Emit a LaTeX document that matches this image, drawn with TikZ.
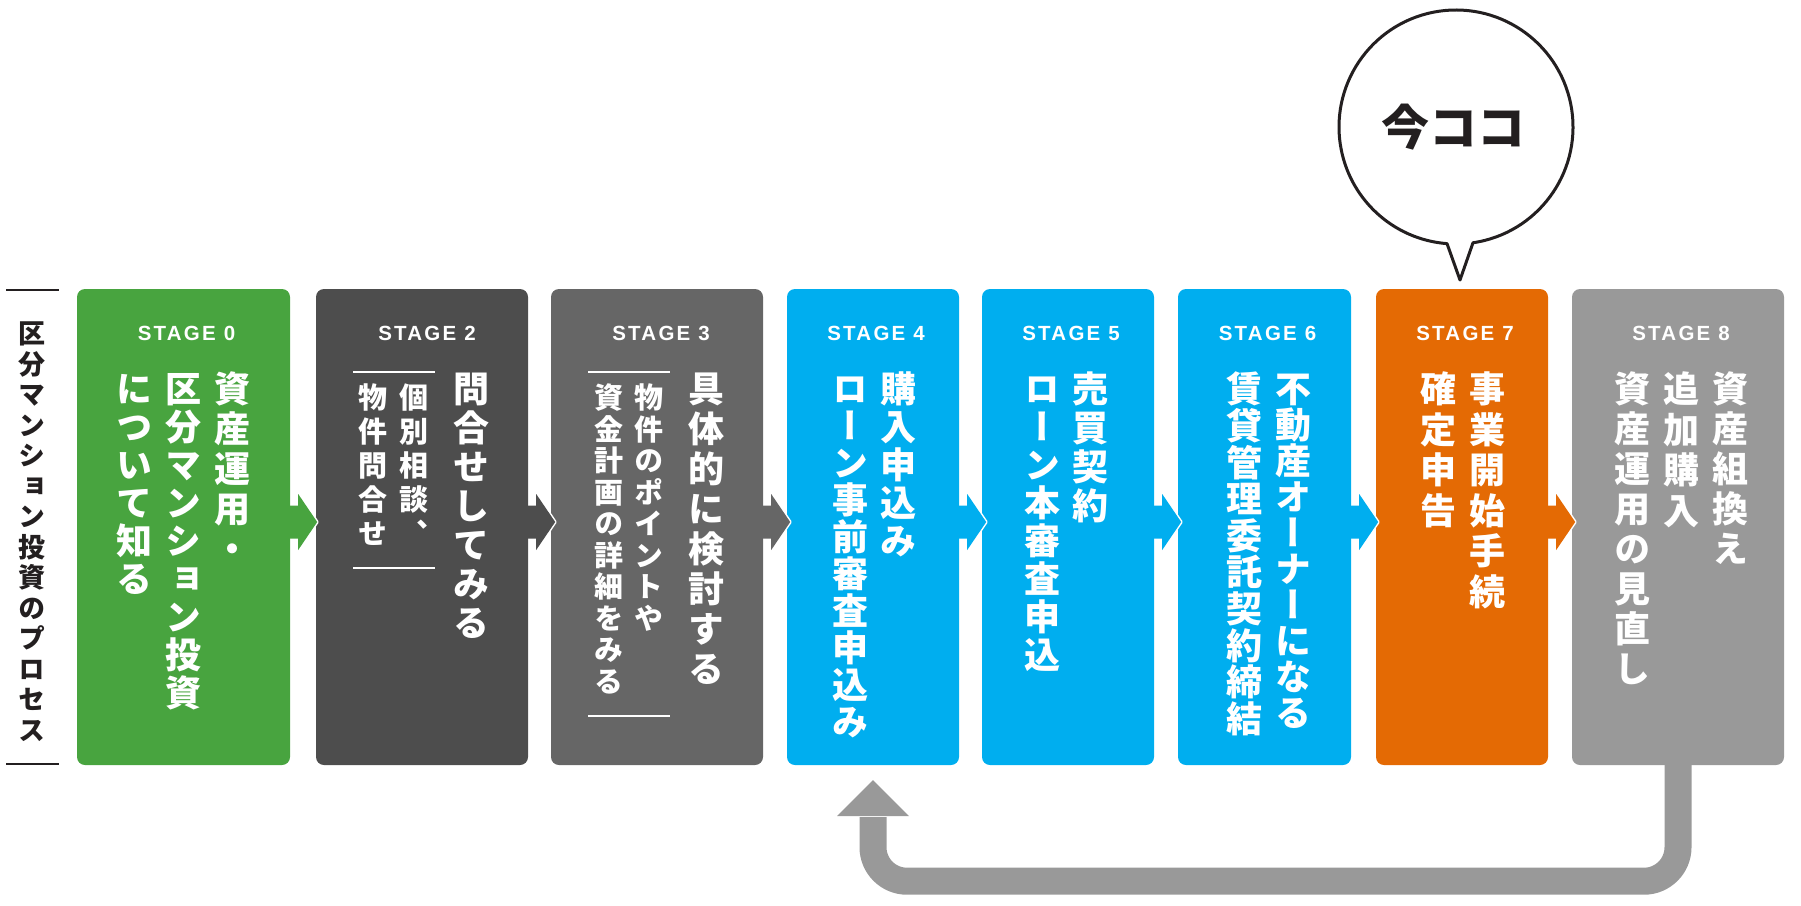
\documentclass[tikz,border=0pt]{standalone}
\usepackage{fontspec}
\newfontfamily\jpv[RawFeature=+vert]{Noto Sans CJK JP}
\newfontfamily\jph{Noto Sans CJK JP}
\newfontfamily\stg[LetterSpace=11]{Liberation Sans}
\usetikzlibrary{calc}
\definecolor{cgreen}{HTML}{48A43F}
\definecolor{cdark}{HTML}{4D4D4D}
\definecolor{cgrey}{HTML}{666666}
\definecolor{cblue}{HTML}{00AEEF}
\definecolor{corange}{HTML}{E46A04}
\definecolor{clight}{HTML}{999999}
\definecolor{cink}{HTML}{231F20}
\makeatletter
\newcommand\vcol[2]{%
  \vbox{\offinterlineskip\let\vc@sep\relax
    \@tfor\vc@ch:=#2\do{%
      \vc@sep
      \hbox to 1em{\vrule height .88em depth .12em width 0pt\hss\vc@ch\hss}%
      \def\vc@sep{\kern\dimexpr#1pt-1em\relax}}}}
\makeatother
\newcommand\starrow[2]{%
  \draw[white, line width=3pt, line join=round]
    ($(#1.east)+(8,-33)$) -- ($(#1.east)+(27,-5)$) -- ($(#1.east)+(8,23)$);
  \fill[#2] ($(#1.east)+(-1,-21.5)$) -- ($(#1.east)+(8,-21.5)$) -- ($(#1.east)+(8,-33)$)
    -- ($(#1.east)+(27,-5)$) -- ($(#1.east)+(8,23)$) -- ($(#1.east)+(8,11.5)$)
    -- ($(#1.east)+(-1,11.5)$) -- cycle;}
\begin{document}
\begin{tikzpicture}[x=1pt,y=-1pt,
  box/.style={rounded corners=8pt, minimum height=476pt, inner sep=0pt, draw=none},
  stagelbl/.style={text=white, inner sep=0pt, font=\stg\bfseries\fontsize{20.5}{20.5}\selectfont},
  vmain/.style={text=white, anchor=north, inner sep=0pt, font=\jpv\bfseries\fontsize{36}{36}\selectfont},
  vsub/.style={text=white, anchor=north, inner sep=0pt, font=\jpv\bfseries\fontsize{29}{29}\selectfont},
  subline/.style={white, line width=1.5pt},
  rule/.style={cink, line width=1.5pt}]
\useasboundingbox (0,0) rectangle (1801,905);

% title on the left
\node[anchor=north, inner sep=0pt, text=cink, font=\jpv\bfseries\fontsize{27}{27}\selectfont] (title) at (32,320) {\vcol{30.5}{区分マンション投資のプロセス}};
\draw[rule] (6,290) -- (59,290);
\draw[rule] (6,764) -- (59,764);

% stage boxes
\node[box, fill=cgreen, minimum width=213pt] (s0) at (183.5,527) {};
\node[box, fill=cdark, minimum width=212pt] (s2) at (422,527) {};
\node[box, fill=cgrey, minimum width=212pt] (s3) at (657,527) {};
\node[box, fill=cblue, minimum width=172pt] (s4) at (873,527) {};
\node[box, fill=cblue, minimum width=172pt] (s5) at (1068,527) {};
\node[box, fill=cblue, minimum width=173pt] (s6) at (1264.5,527) {};
\node[box, fill=corange, minimum width=172pt] (s7) at (1462,527) {};
\node[box, fill=clight, minimum width=212pt] (s8) at (1678,527) {};

% arrows between boxes
\starrow{s0}{cgreen}
\starrow{s2}{cdark}
\starrow{s3}{cgrey}
\starrow{s4}{cblue}
\starrow{s5}{cblue}
\starrow{s6}{cblue}
\starrow{s7}{corange}

% stage labels
\node[stagelbl] (l0) at (186.5,333) {STAGE 0};
\node[stagelbl] (l2) at (427,333) {STAGE 2};
\node[stagelbl] (l3) at (661,333) {STAGE 3};
\node[stagelbl] (l4) at (876,333) {STAGE 4};
\node[stagelbl] (l5) at (1071,333) {STAGE 5};
\node[stagelbl] (l6) at (1267.5,333) {STAGE 6};
\node[stagelbl] (l7) at (1465,333) {STAGE 7};
\node[stagelbl] (l8) at (1681,333) {STAGE 8};

% stage 0
\node[vmain] (t0a) at (232,371) {\vcol{40}{資産運用・}};
\node[vmain] (t0b) at (183,371) {\vcol{38}{区分マンション投資}};
\node[vmain] (t0c) at (134,371) {\vcol{38}{について知る}};
% stage 2
\node[vmain] (t2a) at (471,371) {\vcol{39}{問合せしてみる}};
\node[vsub] (t2b) at (414,383) {\vcol{34}{個別相談、}};
\node[vsub] (t2c) at (373,383) {\vcol{34}{物件問合せ}};
\draw[subline] (353,372) -- (435,372);
\draw[subline] (353,568) -- (435,568);
% stage 3
\node[vmain] (t3a) at (706,371) {\vcol{40}{具体的に検討する}};
\node[vsub] (t3b) at (649,383) {\vcol{31.5}{物件のポイントや}};
\node[vsub] (t3c) at (609,383) {\vcol{31.5}{資金計画の詳細をみる}};
\draw[subline] (588,372) -- (670,372);
\draw[subline] (588,716) -- (670,716);
% stage 4
\node[vmain] (t4a) at (898,371) {\vcol{38}{購入申込み}};
\node[vmain] (t4b) at (850,371) {\vcol{37}{ローン事前審査申込み}};
% stage 5
\node[vmain] (t5a) at (1090,371) {\vcol{39}{売買契約}};
\node[vmain] (t5b) at (1042,371) {\vcol{38}{ローン本審査申込}};
% stage 6
\node[vmain] (t6a) at (1293,371) {\vcol{36}{不動産オーナーになる}};
\node[vmain] (t6b) at (1244,371) {\vcol{36.6}{賃貸管理委託契約締結}};
% stage 7
\node[vmain] (t7a) at (1487,371) {\vcol{40.5}{事業開始手続}};
\node[vmain] (t7b) at (1438,371) {\vcol{40.5}{確定申告}};
% stage 8
\node[vmain] (t8a) at (1730,371) {\vcol{40}{資産組換え}};
\node[vmain] (t8b) at (1681,371) {\vcol{40.5}{追加購入}};
\node[vmain] (t8c) at (1632,371) {\vcol{40}{資産運用の見直し}};

% feedback arrow from stage 8 back to stage 4
\draw[clight, line width=27pt, rounded corners=34pt]
  ($(s8.south)+(0,-2)$) -- ++(0,118) -| ($(s4.south)+(0,52)$);
\fill[clight] ($(s4.south)+(0,15)$) -- ($(s4.south)+(-36,51)$) -- ($(s4.south)+(36,51)$) -- cycle;

% speech bubble
\draw[cink, line width=3pt, line join=round]
  (1456,127) ++(81.65:117) arc[start angle=81.65, end angle=-265.6, radius=117]
  -- (1460,280) -- cycle;
\node[inner sep=0pt, text=cink, font=\jph\bfseries\fontsize{48}{48}\selectfont] (now) at (1453,127) {今ココ};
\end{tikzpicture}
\end{document}
